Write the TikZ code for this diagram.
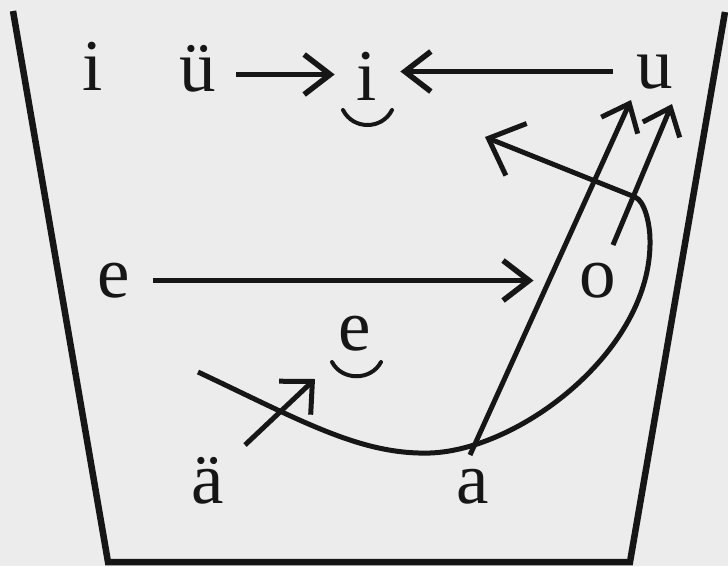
\documentclass[tikz,border=0pt]{standalone}
\usepackage{fontspec}
\setmainfont{Liberation Serif}
\usetikzlibrary{arrows.meta}
\definecolor{paper}{RGB}{236,236,237}
\definecolor{ink}{RGB}{22,22,22}
\begin{document}
\begin{tikzpicture}[x=1pt,y=-1pt,
  vowel/.style={font=\fontsize{73}{73}\selectfont, text=ink, inner sep=0pt,
                text height=33pt, text depth=0pt, anchor=base},
  frame/.style={draw=ink, line width=6.5pt, line join=miter},
  harr/.style={draw=ink, line width=5.5pt, -{Straight Barb[length=26pt,width=40pt]}},
  uarr/.style={draw=ink, line width=5pt, -{Straight Barb[length=24pt,width=40pt]}},
  sarr/.style={draw=ink, line width=5pt, -{Straight Barb[length=24pt,width=46pt]}},
  carr/.style={draw=ink, line width=5pt, -{Straight Barb[length=30pt,width=56pt]}},
  breve/.style={draw=ink, line width=4pt, line cap=round}]
\fill[paper] (0,0) rectangle (728,566);
\useasboundingbox (0,0) rectangle (728,566);

% vowel quadrilateral
\draw[frame] (13,11) -- (108,562) -- (630,562) -- (725,12);

% vowels
\node[vowel] (i)  at (93,90)   {i};
\node[vowel] (ue) at (198,91)  {ü};
\node[vowel] (ib) at (367,100) {i};
\node[vowel] (u)  at (655,88)  {u};
\node[vowel] (e)  at (114,297) {e};
\node[vowel] (o)  at (598,297) {o};
\node[vowel] (eb) at (355,350) {e};
\node[vowel] (ae) at (208,503) {ä};
\node[vowel] (a)  at (473,503) {a};

% breves below
\draw[breve] ([shift={(-24,10)}]ib.base) .. controls +(10,20) and +(-10,20) .. ([shift={(25,10)}]ib.base);
\draw[breve] ([shift={(-23,12)}]eb.base) .. controls +(10,19) and +(-10,19) .. ([shift={(26,12)}]eb.base);

% horizontal arrows
\draw[harr] ([xshift=20pt]ue.east) -- ([xshift=-22pt]ue.east -| ib.west);
\draw[harr] ([xshift=-24pt]u.west) -- ([xshift=23pt]u.west -| ib.east);
\draw[harr] ([xshift=23pt]e.east) -- ([xshift=-46pt]e.east -| o.west);

% short arrow from ä towards ĕ
\draw[sarr] ([shift={(37,-58)}]ae.base) -- ([shift={(-40,29)}]eb.base);

% arrows up to u
\draw[uarr] ([shift={(-3,-48)}]a.base) -- ([shift={(-24,12)}]u.base);
\draw[uarr] ([shift={(15,-52)}]o.base) -- ([shift={(17,16)}]u.base);

% big curve
\coordinate (cS) at (198,372);
\coordinate (cT) at (485,137);
\draw[carr] (cS) .. controls (300,420) and (360,455) .. (430,453)
  .. controls (520,450) and (652,350) .. (650,240)
  .. controls (650,225) and (645,201) .. (635,197) -- (cT);
\end{tikzpicture}
\end{document}
